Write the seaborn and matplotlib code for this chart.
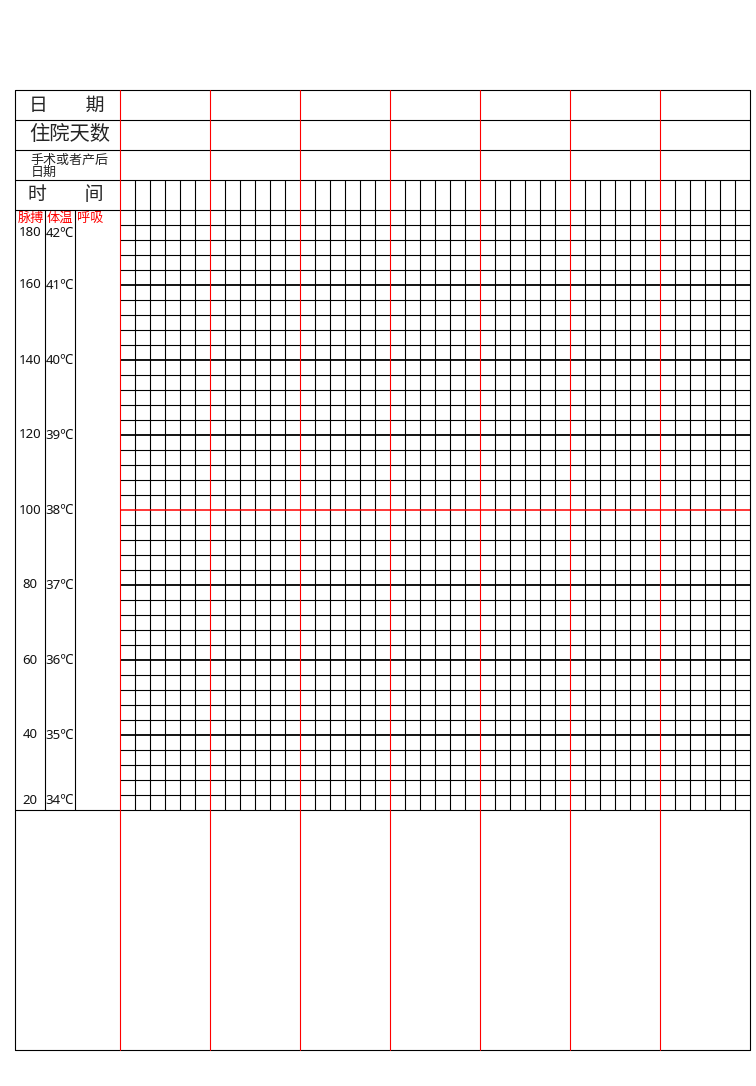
import numpy as np
import matplotlib
matplotlib.use('Agg')
import matplotlib.pyplot as plt
import matplotlib.transforms as mtransforms
import seaborn as sns

# ---------------- data (blank temperature chart form) ----------------
dates = ['', '', '', '', '', '', '']            # 7 day columns
hospital_days = ['', '', '', '', '', '', '']
op_days = ['', '', '', '', '', '', '']
time_slots = ['', '', '', '', '', '']           # 6 readings per day
temp_ticks = [42, 41, 40, 39, 38, 37, 36, 35, 34]
pulse_ticks = [180, 160, 140, 120, 100, 80, 60, 40, 20]
temp_step = 0.2
fever_line = 38
row_titles = ['日\u3000\u3000期', '住院天数', '手术或者产后', '日期', '时\u3000\u3000间']
col_titles = ['脉搏', '体温', '呼吸']

sns.set_theme(style='white')
plt.rcParams['font.family'] = ['Noto Sans CJK SC', 'DejaVu Sans']
NUM_FONT = ['Noto Sans', 'Noto Sans CJK SC', 'DejaVu Sans']

RED = '#FF0000'
W, H = 756, 1086
fig = plt.figure(figsize=(W / 100, H / 100), dpi=100)
fig.patch.set_facecolor('white')

frame = fig.add_axes([0, 0, 1, 1])
frame.set_xlim(0, W)
frame.set_ylim(H, 0)
frame.axis('off')

# layout in pixels
L, R, T, B = 15, 750, 90, 1050
row_h = 30
gx0, gtop, gbot = 120, 180, 810
tmin, tmax = min(temp_ticks), max(temp_ticks)
px_per_deg = (gbot - gtop - row_h) / (tmax - tmin)

n_slots = len(dates) * len(time_slots)
grid = fig.add_axes([gx0 / W, 1 - gbot / H, (R - gx0) / W, (gbot - gtop) / H])
grid.set_xlim(0, n_slots)
grid.set_ylim(tmin, tmax + row_h / px_per_deg)
grid.axis('off')

thin, thick = 0.8, 1.3
slot_x_px_y = mtransforms.blended_transform_factory(grid.transData, frame.transData)
px_x_temp_y = mtransforms.blended_transform_factory(frame.transData, grid.transData)

# ----- table frame (black) -----
for k in range(4):
    y = T + k * row_h
    frame.plot([L, R], [y, y], color='black', lw=thin, solid_capstyle='butt')
for t in (tmax, tmin):
    grid.plot([L, R], [t, t], transform=px_x_temp_y, color='black', lw=thin,
              clip_on=False, solid_capstyle='butt')
frame.plot([L, L], [T, B], color='black', lw=thin)
frame.plot([L, R], [B, B], color='black', lw=thin)
for x in (45, 75):
    grid.plot([x, x], [tmin, tmax], transform=px_x_temp_y, color='black', lw=thin,
              clip_on=False)

# ----- grid lines -----
temps = np.round(np.arange(tmin + temp_step, tmax, temp_step), 1)
for t in temps:
    if abs(t - fever_line) < 1e-6:
        continue
    lw = thick if abs(t - round(t)) < 1e-6 else thin
    grid.axhline(t, color='black', lw=lw, zorder=1)
grid.axhline(fever_line, color=RED, lw=1.1, zorder=3)

for s in range(1, n_slots):
    if s % len(time_slots) == 0:
        continue
    grid.axvline(s, color='black', lw=thin, zorder=2)

for d in range(len(dates) + 1):
    x = d * len(time_slots)
    col = 'black' if d == len(dates) else RED
    grid.plot([x, x], [T, B], transform=slot_x_px_y, color=col, lw=thin,
              clip_on=False, zorder=4)

# ----- texts -----
frame.text(29, T + 15, row_titles[0], fontsize=13.6, ha='left', va='center')
frame.text(29, T + 45, row_titles[1], fontsize=14.6, ha='left', va='center')
frame.text(30.5, T + 70, row_titles[2], fontsize=9.4, ha='left', va='center')
frame.text(30.5, T + 82, row_titles[3], fontsize=9.4, ha='left', va='center')
frame.text(28, T + 105, row_titles[4], fontsize=13.6, ha='left', va='center')

frame.text(30.5, 218, col_titles[0], fontsize=9.5, color=RED, ha='center', va='center')
frame.text(60, 218, col_titles[1], fontsize=9.5, color=RED, ha='center', va='center')
frame.text(77, 218, col_titles[2], fontsize=9.5, color=RED, ha='left', va='center')

for p, t in zip(pulse_ticks, temp_ticks):
    if t == tmax:
        off = -23
    elif t == tmin:
        off = 10
    else:
        off = 0
    grid.annotate(str(p), xy=(30, t), xycoords=px_x_temp_y,
                  xytext=(0, off * 0.72), textcoords='offset points',
                  ha='center', va='center', fontsize=9.5, color='#111111',
                  family=NUM_FONT, annotation_clip=False)
    grid.annotate(f'{t}℃', xy=(60, t), xycoords=px_x_temp_y,
                  xytext=(0, off * 0.72), textcoords='offset points',
                  ha='center', va='center', fontsize=9.5, color='#111111',
                  family=NUM_FONT, annotation_clip=False)

fig.savefig('out.png', dpi=100, facecolor='white')
